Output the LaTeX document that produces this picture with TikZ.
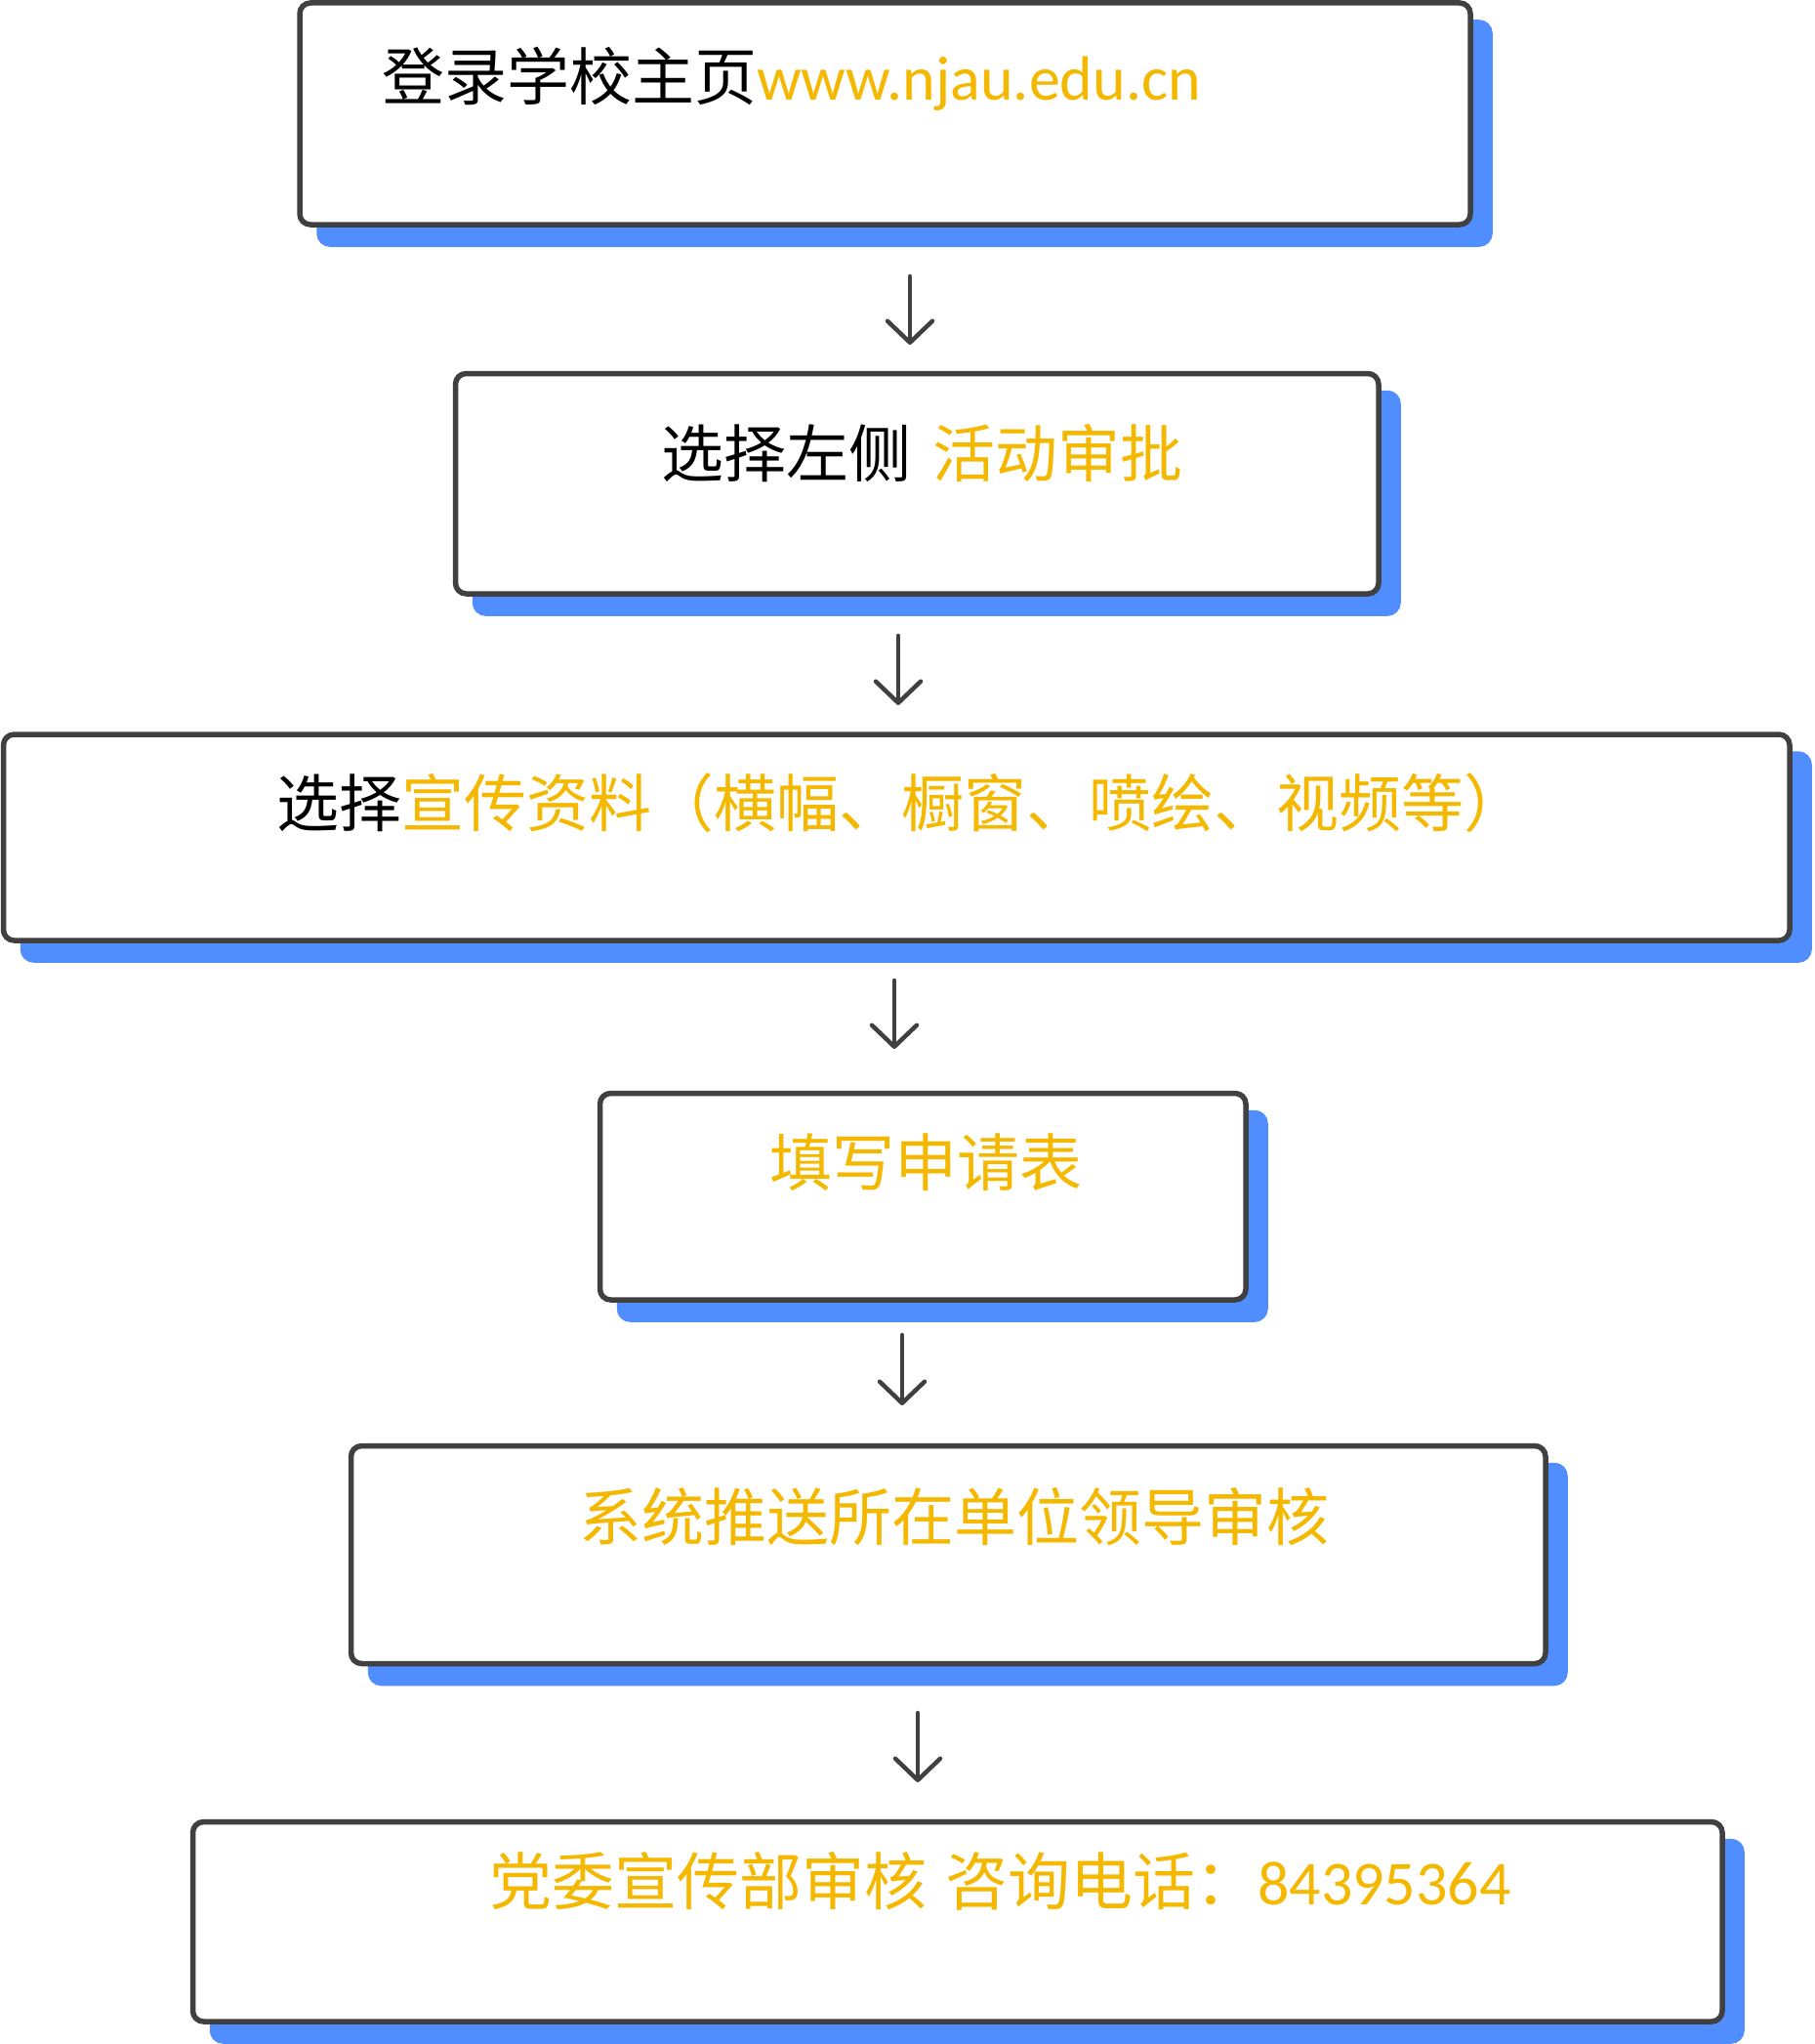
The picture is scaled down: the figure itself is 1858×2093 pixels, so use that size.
\documentclass[tikz,border=0pt]{standalone}
\usepackage{fontspec}
\newfontfamily\cjk{Noto Sans CJK SC}
\newfontfamily\latf{Carlito}
\usetikzlibrary{arrows.meta,backgrounds}
\definecolor{boxline}{HTML}{404040}
\definecolor{shadowblue}{HTML}{508EFF}
\definecolor{goldtxt}{HTML}{F5B800}
\begin{document}
\begin{tikzpicture}[x=1pt,y=-1pt,
  stepbox/.style={draw=boxline, line width=5.5pt, rounded corners=11pt, fill=white, rectangle, inner sep=0pt, outer sep=0pt},
  shadowbox/.style={draw=shadowblue, fill=shadowblue, line width=5.5pt, rounded corners=11pt},
  arr/.style={draw=boxline, line width=4.5pt, line cap=round, line join=round, -{Straight Barb[length=22pt,width=46pt,line cap=round,line join=round]}},
  txt/.style={anchor=base west, inner sep=0pt, outer sep=0pt, font=\cjk\fontsize{64pt}{72pt}\selectfont},
  gold/.style={text=goldtxt}]
\useasboundingbox (0,0) rectangle (1858,2093);

% boxes
\node[stepbox, minimum width=1199pt, minimum height=227pt] (b1) at (906.5,116.5) {};
\node[stepbox, minimum width=945.5pt, minimum height=225.5pt] (b2) at (939.25,495.25) {};
\node[stepbox, minimum width=1829.5pt, minimum height=211pt] (b3) at (918.25,857.5) {};
\node[stepbox, minimum width=661.5pt, minimum height=211.5pt] (b4) at (945.25,1225.25) {};
\node[stepbox, minimum width=1223.5pt, minimum height=223pt] (b5) at (971.25,1592) {};
\node[stepbox, minimum width=1566.5pt, minimum height=204.5pt] (b6) at (980.75,1967.75) {};

% shadows
\begin{scope}[on background layer]
\foreach \b in {b1,b2,b3,b4,b5,b6}{
  \path[shadowbox] ([shift={(20,20)}]\b.north west) rectangle ([shift={(20,20)}]\b.south east);
}
\end{scope}

% texts
\node[txt] (t1) at (391,102) {登录学校主页\textcolor{goldtxt}{\latf www.njau.edu.cn}};
\node[txt] (t2) at (677,488) {选择左侧\hspace{0.35em}\textcolor{goldtxt}{活动审批}};
\node[txt] (t3) at (283,846) {选择\textcolor{goldtxt}{宣传资料（横幅、橱窗、喷绘、视频等）}};
\node[txt, gold] (t4) at (788,1214) {填写申请表};
\node[txt, gold] (t5) at (593,1577) {系统推送所在单位领导审核};
\node[txt, gold] (t6) at (501,1950) {党委宣传部审核\hspace{0.3em}咨询电话：{\latf 84395364}};

% arrows
\coordinate (a1s) at (932,283);  \coordinate (a1e) at (932,353);
\coordinate (a2s) at (920,651);  \coordinate (a2e) at (920,722);
\coordinate (a3s) at (916,1004); \coordinate (a3e) at (916,1074);
\coordinate (a4s) at (924,1367); \coordinate (a4e) at (924,1439);
\coordinate (a5s) at (940,1754); \coordinate (a5e) at (940,1825);
\draw[arr] (a1s) -- (a1e);
\draw[arr] (a2s) -- (a2e);
\draw[arr] (a3s) -- (a3e);
\draw[arr] (a4s) -- (a4e);
\draw[arr] (a5s) -- (a5e);
\end{tikzpicture}
\end{document}
